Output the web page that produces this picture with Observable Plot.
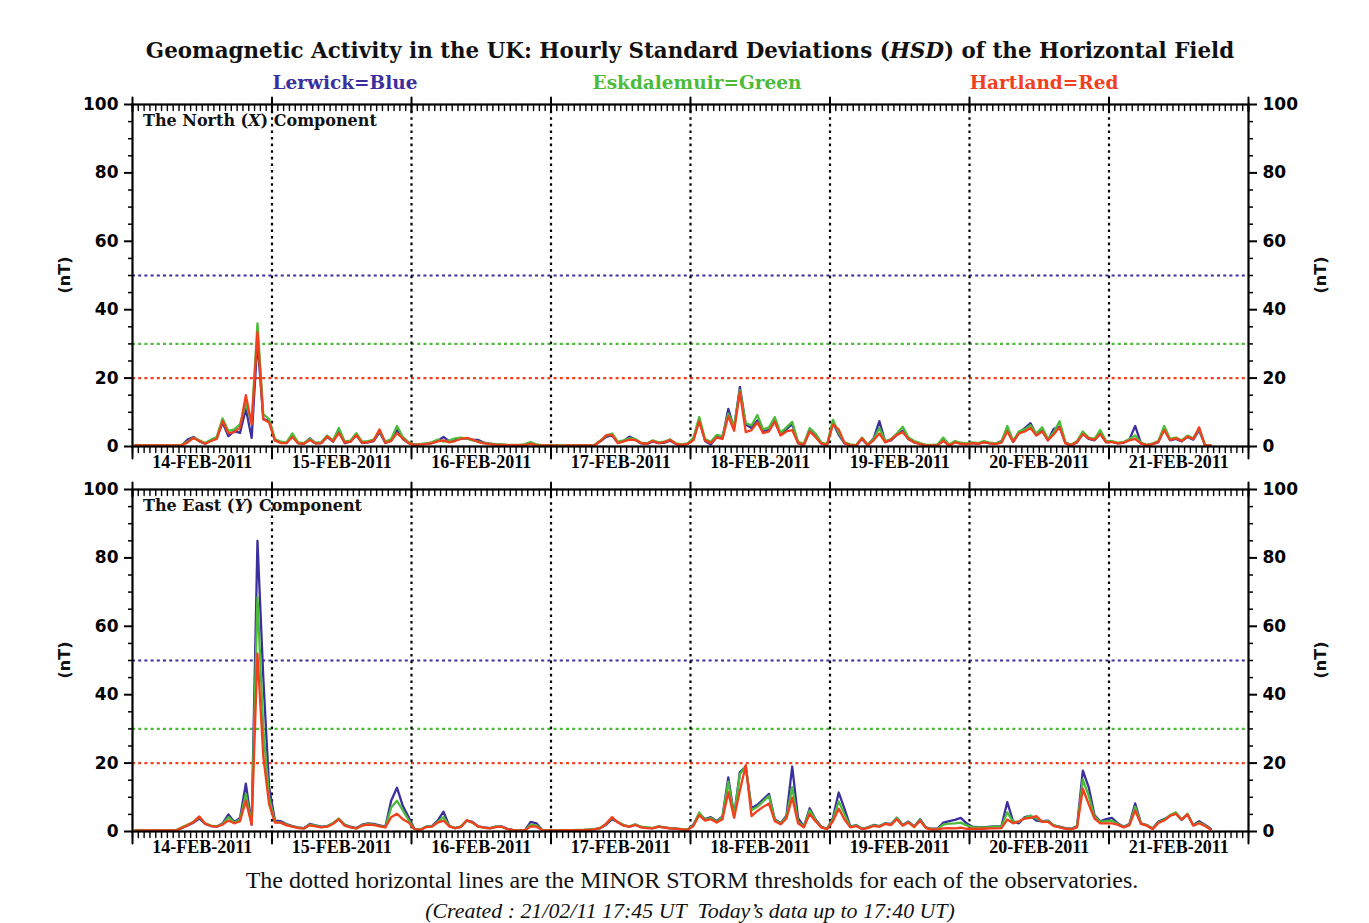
<!DOCTYPE html>
<html><head><meta charset="utf-8">
<script src="https://cdn.jsdelivr.net/npm/d3@7"></script>
<script src="https://cdn.jsdelivr.net/npm/@observablehq/plot@0.6"></script>
<style>
body{margin:0;background:#fff;}
#wrap{position:relative;width:1369px;height:923px;overflow:hidden;background:#fff;}
.abs{position:absolute;white-space:nowrap;line-height:1;}
svg{position:absolute;left:0;}
</style></head><body><div id="wrap"></div>
<script>
// ---------- data ----------
const stations = ["Lerwick", "Eskdalemuir", "Hartland"];
const stationColors = ["#3b2f9e", "#4cbb3a", "#f2401e"];
const colorNames = ["Blue", "Green", "Red"];
const thresholds = [50, 30, 20];              // minor storm thresholds (nT)
const startDay = "2011-02-14";
const dayLabels = ["14-FEB-2011","15-FEB-2011","16-FEB-2011","17-FEB-2011","18-FEB-2011","19-FEB-2011","20-FEB-2011","21-FEB-2011"];
const yMajorTicks = [0, 20, 40, 60, 80, 100];
const yMinorTicks = [5,10,15,25,30,35,45,50,55,65,70,75,85,90,95];

// hourly HSD values (nT), from 14-Feb-2011 00h, North (X) component
const lerwickX = [
0.3,0.3,0.3,0.2,0.3,0.3,0.2,0.3,0.4,2.0,2.8,1.5,0.8,1.8,2.5,7.0,3.0,4.5,4.0,11.0,2.5,31.0,8.0,7.5,
1.8,1.2,1.0,3.2,1.0,0.8,2.4,0.9,1.0,2.8,1.4,4.6,1.0,1.4,3.4,1.0,1.2,1.6,4.2,1.0,1.8,4.8,2.2,1.0,
0.5,0.6,0.8,1.0,1.6,2.8,1.5,1.9,2.3,2.4,2.0,1.9,1.1,0.8,0.6,0.5,0.4,0.4,0.4,0.5,0.9,0.4,0.3,0.3,
0.3,0.2,0.2,0.3,0.2,0.3,0.3,0.4,1.5,2.8,3.3,1.1,1.6,2.9,2.0,0.9,0.7,1.5,1.0,1.1,1.7,0.7,0.4,0.7,
2.0,8.0,1.6,0.6,2.8,2.4,11.0,5.4,17.4,6.4,5.4,7.6,4.6,4.8,7.4,3.4,5.0,6.6,1.0,0.4,4.6,3.0,0.9,0.4,
7.0,3.4,0.9,0.4,0.3,2.2,0.4,2.4,7.4,1.4,1.8,3.4,4.6,2.2,1.2,0.8,0.3,0.3,0.4,1.8,0.3,1.4,0.9,0.7,
1.0,0.8,1.3,0.9,0.8,1.6,4.8,1.3,4.0,5.4,6.8,3.4,4.6,1.8,5.2,5.8,1.0,0.4,1.2,3.8,2.2,1.8,3.8,1.2,
1.4,0.9,1.1,2.0,6.0,0.9,0.4,0.7,1.3,5.2,1.8,2.2,1.5,2.8,2.0,4.8,0.4,0.2];
const eskdalemuirX = [
0.5,0.4,0.4,0.3,0.4,0.4,0.3,0.4,0.5,1.5,2.6,1.8,1.0,2.0,2.8,8.2,4.5,5.0,6.5,12.5,7.0,36.0,9.5,8.0,
2.2,1.4,1.2,3.8,1.2,1.0,2.2,1.1,1.3,3.2,1.8,5.4,1.5,1.7,3.9,1.4,1.6,2.0,4.6,1.4,2.2,6.0,2.8,1.3,
0.6,0.7,0.9,1.2,2.0,1.4,1.8,2.4,2.6,2.3,1.8,1.4,1.0,0.8,0.7,0.6,0.5,0.5,0.5,0.7,1.3,0.6,0.4,0.3,
0.4,0.3,0.3,0.4,0.3,0.4,0.4,0.5,1.8,3.2,3.8,1.4,1.8,2.4,2.2,1.1,0.9,1.8,1.2,1.4,2.1,0.9,0.6,0.9,
2.5,8.6,2.2,1.4,3.4,3.0,9.6,6.0,16.5,6.8,6.2,9.2,5.0,5.6,8.6,4.0,5.6,7.2,1.4,0.8,5.4,3.8,1.2,0.6,
7.8,4.0,1.2,0.6,0.4,2.6,0.6,2.2,5.4,1.6,2.2,3.8,5.8,2.6,1.6,1.0,0.5,0.5,0.6,2.6,0.5,1.6,1.1,0.9,
1.2,1.0,1.6,1.1,0.9,1.4,6.0,1.6,4.4,5.0,6.2,3.8,5.6,2.2,4.2,7.4,1.2,0.5,1.6,4.4,2.6,2.2,4.8,1.6,
1.6,1.1,1.3,2.2,3.2,1.1,0.5,0.9,1.6,6.0,2.2,2.6,1.8,3.2,2.4,5.2,0.5,0.3];
const hartlandX = [
0.4,0.3,0.3,0.3,0.3,0.3,0.3,0.3,0.4,1.2,2.5,1.6,0.8,1.6,2.2,7.5,3.8,4.2,5.5,15.0,6.5,33.5,8.0,7.0,
1.8,1.0,1.0,2.8,0.9,0.8,1.9,0.9,1.0,2.9,1.5,3.9,1.2,1.4,3.3,1.1,1.3,1.8,5.0,1.1,1.6,3.9,2.4,1.0,
0.5,0.6,0.7,1.0,1.5,1.8,1.2,1.6,2.2,2.5,2.0,1.3,0.9,0.7,0.5,0.5,0.4,0.4,0.4,0.5,0.8,0.4,0.3,0.3,
0.3,0.2,0.3,0.3,0.3,0.3,0.3,0.4,1.6,3.3,3.4,1.0,1.5,2.0,1.9,1.0,0.8,1.6,1.0,1.3,1.9,0.8,0.5,0.8,
1.8,7.3,1.8,1.0,2.6,2.2,8.9,4.6,15.9,4.2,4.8,7.0,3.9,4.4,7.3,3.2,4.4,4.8,1.0,0.5,4.4,2.8,0.9,0.5,
6.4,5.0,1.0,0.4,0.3,2.4,0.4,1.8,3.8,1.2,2.0,3.4,4.2,2.2,1.2,0.7,0.3,0.3,0.4,1.6,0.3,1.2,0.8,0.6,
1.0,0.8,1.2,0.9,0.7,1.1,4.4,1.4,3.8,4.4,5.4,3.2,4.4,1.8,3.6,5.6,0.9,0.4,1.3,3.6,2.4,1.9,3.6,1.3,
1.3,0.9,1.1,1.8,2.2,0.9,0.4,0.7,1.4,4.8,1.9,2.4,1.6,2.9,2.2,5.6,0.4,0.3];

// East (Y) component
const lerwickY = [
0.3,0.3,0.2,0.3,0.3,0.2,0.3,0.3,1.0,1.8,2.6,3.8,2.2,1.6,1.4,2.4,5.0,2.8,4.0,14.0,2.0,85.0,45.0,13.0,
3.2,3.0,2.2,1.6,1.2,1.0,2.2,1.8,1.4,1.6,2.4,3.6,2.0,1.4,1.0,2.0,2.4,2.2,1.8,1.4,9.0,12.8,7.5,4.2,
0.8,0.5,1.4,1.6,3.2,5.8,1.6,1.0,1.4,3.2,2.8,1.5,1.2,1.0,1.4,1.5,0.8,0.4,0.3,0.3,2.8,2.4,0.4,0.3,
0.3,0.3,0.4,0.3,0.4,0.4,0.5,0.6,1.0,2.0,3.6,2.8,1.8,1.4,2.0,1.3,1.1,1.0,1.4,1.2,0.9,0.8,0.6,0.5,
2.0,5.2,3.6,4.2,3.0,4.4,15.8,4.6,17.4,19.0,6.8,7.8,9.4,11.0,3.6,2.4,4.6,19.0,4.0,1.4,6.8,3.6,1.4,0.8,
4.0,11.4,6.6,1.4,1.9,0.8,1.2,1.9,1.6,2.4,2.2,4.0,1.9,2.9,1.5,3.6,1.2,0.8,0.8,2.6,3.0,3.4,4.0,2.4,
1.4,1.3,1.2,1.4,1.5,1.6,8.6,3.0,2.4,4.2,4.6,3.2,3.0,3.2,1.8,1.4,1.0,0.8,1.6,17.8,13.0,4.8,3.0,3.6,
4.0,2.4,1.4,2.2,8.2,2.4,1.9,0.9,2.9,3.6,4.6,5.2,3.4,5.0,1.9,3.0,2.0,0.8];
const eskdalemuirY = [
0.4,0.3,0.3,0.3,0.4,0.3,0.3,0.4,1.2,2.0,2.8,4.2,2.4,1.7,1.5,2.2,4.2,2.6,3.5,11.0,2.2,68.5,30.0,10.0,
2.8,2.6,2.0,1.4,1.1,0.9,2.0,1.7,1.3,1.5,2.4,3.8,1.9,1.3,0.9,1.8,2.2,2.0,1.6,1.3,7.0,9.0,6.2,3.4,
0.7,0.5,1.4,1.5,2.8,4.2,1.6,1.0,1.4,3.2,2.6,1.4,1.1,1.0,1.4,1.4,0.7,0.4,0.3,0.3,2.0,1.8,0.4,0.3,
0.4,0.4,0.4,0.4,0.5,0.5,0.6,0.7,1.1,2.2,4.0,2.8,1.9,1.5,2.1,1.4,1.2,1.0,1.5,1.2,1.0,0.9,0.7,0.6,
1.8,5.6,3.4,4.0,2.8,4.2,14.6,4.4,16.8,19.2,6.2,7.2,8.8,10.4,3.4,2.3,4.2,13.0,3.0,1.3,6.2,3.4,1.3,0.8,
3.6,8.8,5.0,1.3,1.8,0.8,1.1,1.8,1.5,2.3,2.0,4.0,1.8,2.7,1.4,3.4,1.1,0.7,0.7,2.0,2.3,2.4,2.6,1.8,
1.3,1.2,1.1,1.3,1.4,1.5,5.6,2.8,2.8,4.0,4.6,3.8,2.9,3.0,1.8,1.3,0.9,0.7,1.4,15.2,10.5,4.4,2.8,3.0,
3.2,2.2,1.3,2.0,7.2,2.3,1.8,0.8,2.7,3.4,4.8,5.6,3.5,5.2,1.8,2.6,1.8,0.7];
const hartlandY = [
0.3,0.3,0.3,0.3,0.3,0.3,0.3,0.3,1.1,1.8,2.8,4.4,2.3,1.6,1.4,2.0,3.2,2.4,3.0,9.0,2.0,52.0,22.0,8.0,
2.6,2.6,1.8,1.4,1.0,0.9,1.8,1.5,1.2,1.4,2.2,3.6,1.7,1.2,0.9,1.7,2.0,1.9,1.5,1.2,4.2,5.2,3.6,2.6,
0.7,0.4,1.3,1.4,2.6,3.2,1.5,1.0,1.3,3.3,2.6,1.4,1.1,0.9,1.3,1.4,0.7,0.4,0.3,0.3,1.5,1.4,0.4,0.3,
0.3,0.3,0.4,0.3,0.4,0.4,0.5,0.6,1.0,2.3,4.2,2.6,1.7,1.4,1.9,1.2,1.0,0.9,1.4,1.1,0.9,0.8,0.6,0.5,
1.6,4.8,3.2,3.6,2.6,3.6,11.5,4.0,12.0,19.4,4.5,6.0,7.2,8.2,3.0,2.1,3.8,9.9,2.4,1.2,5.1,3.0,1.2,0.7,
3.0,6.7,3.5,1.2,1.6,0.7,1.0,1.6,1.4,2.2,1.9,3.6,1.7,2.6,1.3,3.1,1.0,0.6,0.6,0.9,1.0,0.9,1.1,0.8,
0.8,0.8,0.8,0.9,0.9,1.0,3.5,2.4,3.0,3.8,4.0,4.5,2.8,2.8,1.6,1.2,0.8,0.6,1.2,12.5,8.0,3.8,2.4,2.4,
2.4,2.0,1.2,1.8,6.1,2.2,1.7,0.7,2.5,3.2,4.6,5.2,3.5,5.0,1.7,2.4,1.6,0.6];

// ---------- build ----------
const HOUR = 3600e3;
const t0 = new Date(startDay + "T00:00:00Z");
const t1 = new Date(t0.getTime() + dayLabels.length * 24 * HOUR);
const dayStarts = d3.utcDay.range(t0, new Date(t1.getTime() + 1));
const dayMids = dayLabels.map((_, i) => new Date(t0.getTime() + (i * 24 + 12) * HOUR));
const hours = d3.utcHour.range(t0, new Date(t1.getTime() + 1));
const dividers = dayStarts.slice(1, -1);

function records(series) {
  const out = [];
  series.forEach((vals, s) => vals.forEach((v, i) =>
    out.push({station: stations[s], t: new Date(t0.getTime() + (i + 0.5) * HOUR), v})));
  return out;
}
const tickShape = {draw(ctx, l) { ctx.moveTo(0, 0); ctx.lineTo(0, -l); }};
const sans = "'DejaVu Sans', sans-serif";
const serif = "'Liberation Serif', serif";

const ML = 132, MR = 121, MT = 10, MB = 32, PH = 342;

function panel(series) {
  return Plot.plot({
    width: 1369, height: PH + MT + MB,
    marginLeft: ML, marginRight: MR, marginTop: MT, marginBottom: MB,
    x: {type: "utc", domain: [t0, t1]},
    y: {domain: [0, 100]},
    color: {domain: stations, range: stationColors},
    style: {background: "transparent", overflow: "visible"},
    marks: [
      Plot.ruleY(thresholds, {y: d => d, stroke: (d, i) => stations[i], strokeWidth: 2.2, strokeDasharray: "3,3.2"}),
      Plot.ruleX(dividers, {x: d => d, stroke: "black", strokeWidth: 2.2, strokeDasharray: "2.6,4"}),
      Plot.line(records(series), {x: "t", y: "v", z: "station", stroke: "station", strokeWidth: 2.3, curve: "linear"}),
      Plot.frame({stroke: "black", strokeWidth: 2.2}),
      Plot.axisY(yMajorTicks, {anchor: "left", tickSize: 8, tickPadding: 6, strokeWidth: 2, label: null,
        fontFamily: sans, fontWeight: "bold", fontSize: 17, fill: "black"}),
      Plot.axisY(yMinorTicks, {anchor: "left", tickSize: 4, strokeWidth: 1.5, label: null, tickFormat: () => ""}),
      Plot.axisY(yMajorTicks, {anchor: "right", tickSize: 8, tickPadding: 6, strokeWidth: 2, label: null,
        fontFamily: sans, fontWeight: "bold", fontSize: 17, fill: "black"}),
      Plot.axisY(yMinorTicks, {anchor: "right", tickSize: 4, strokeWidth: 1.5, label: null, tickFormat: () => ""}),
      Plot.vector(hours, {x: d => d, frameAnchor: "top", length: 6, rotate: 180, anchor: "start", shape: tickShape, stroke: "black", strokeWidth: 1.4}),
      Plot.vector(hours, {x: d => d, frameAnchor: "bottom", length: 6, rotate: 180, anchor: "start", shape: tickShape, stroke: "black", strokeWidth: 1.4}),
      Plot.vector(dayStarts, {x: d => d, frameAnchor: "top", length: 14, rotate: 180, anchor: "middle", shape: tickShape, stroke: "black", strokeWidth: 2}),
      Plot.vector(dayStarts, {x: d => d, frameAnchor: "bottom", length: 12, rotate: 180, anchor: "start", shape: tickShape, stroke: "black", strokeWidth: 2}),
      Plot.axisX(dayMids, {anchor: "bottom", tickSize: 0, tickPadding: 9, label: null,
        tickFormat: (d, i) => dayLabels[i], fontFamily: serif, fontWeight: "bold", fontSize: 18, fill: "black"})
    ]
  });
}

const wrap = document.getElementById("wrap");
function place(html, x, y, anchor, style) {
  const d = document.createElement("div");
  d.className = "abs";
  d.innerHTML = html;
  d.style.left = x + "px"; d.style.top = y + "px";
  const tx = anchor === "middle" ? "-50%" : anchor === "end" ? "-100%" : "0";
  d.style.transform = `translate(${tx},-50%)` + (style.rotate ? ` rotate(${style.rotate}deg)` : "");
  for (const k in style) if (k !== "rotate") d.style[k] = style[k];
  wrap.appendChild(d);
  return d;
}

const s1 = panel([lerwickX, eskdalemuirX, hartlandX]);
s1.style.top = (104 - MT) + "px";
wrap.appendChild(s1);
const s2 = panel([lerwickY, eskdalemuirY, hartlandY]);
s2.style.top = (489 - MT) + "px";
wrap.appendChild(s2);

const dj = "'DejaVu Serif', serif";
place("Geomagnetic Activity in the UK: Hourly Standard Deviations (<i>HSD</i>) of the Horizontal Field", 690, 51, "middle",
  {fontFamily: dj, fontWeight: "bold", fontSize: "21.4px", color: "#111"});
const legendX = [345, 697, 1044];
stations.forEach((s, i) => place(`${s}=${colorNames[i]}`, legendX[i], 83, "middle",
  {fontFamily: dj, fontWeight: "bold", fontSize: "18.5px", color: stationColors[i]}));
place("The North (<i>X</i>) Component", 143, 121, "start", {fontFamily: dj, fontWeight: "bold", fontSize: "16px", color: "#111"});
place("The East (<i>Y</i>) Component", 143, 506, "start", {fontFamily: dj, fontWeight: "bold", fontSize: "16px", color: "#111"});
[275, 660].forEach(y => {
  place("(nT)", 65, y, "middle", {fontFamily: sans, fontWeight: "bold", fontSize: "16px", rotate: -90, color: "#111"});
  place("(nT)", 1321, y, "middle", {fontFamily: sans, fontWeight: "bold", fontSize: "16px", rotate: -90, color: "#111"});
});
place("The dotted horizontal lines are the MINOR STORM thresholds for each of the observatories.", 692, 880, "middle",
  {fontFamily: serif, fontSize: "24px", color: "#111"});
place("(Created : 21/02/11 17:45 UT&nbsp;&nbsp;Today’s data up to 17:40 UT)", 690, 911, "middle",
  {fontFamily: serif, fontStyle: "italic", fontSize: "21.9px", color: "#111"});
</script></body></html>
